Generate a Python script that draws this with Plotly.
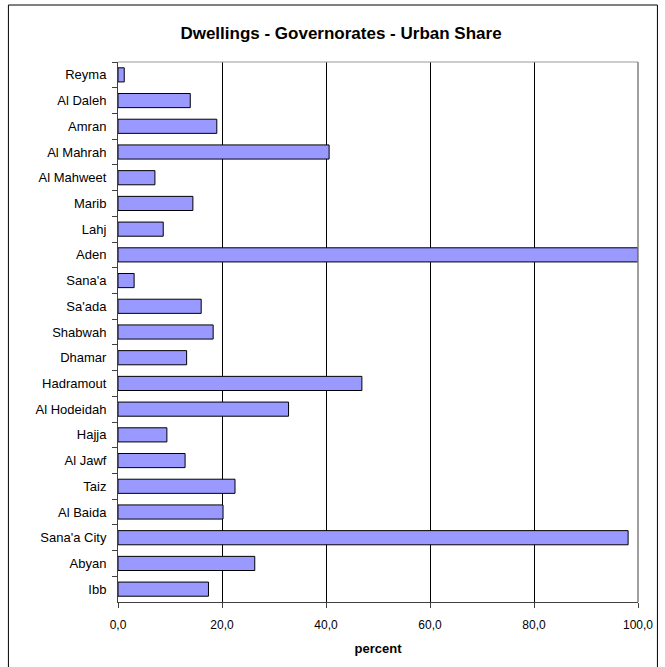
import plotly.graph_objects as go

governorates = ["Reyma", "Al Daleh", "Amran", "Al Mahrah", "Al Mahweet", "Marib", "Lahj",
                "Aden", "Sana'a", "Sa'ada", "Shabwah", "Dhamar", "Hadramout", "Al Hodeidah",
                "Hajja", "Al Jawf", "Taiz", "Al Baida", "Sana'a City", "Abyan", "Ibb"]
urban_share = [1.2, 13.9, 19.0, 40.6, 7.1, 14.4, 8.7,
               100.0, 3.1, 16.0, 18.3, 13.2, 46.9, 32.8,
               9.4, 12.9, 22.5, 20.2, 98.1, 26.3, 17.4]
tick_values = [0, 20, 40, 60, 80, 100]
tick_labels = ["0,0", "20,0", "40,0", "60,0", "80,0", "100,0"]

W, H = 665, 667
ml, mr, mt, mb = 118, 25, 62, 65
pw = W - ml - mr
ph = H - mt - mb
FONT = "Liberation Sans, Arial, sans-serif"

fig = go.Figure(go.Bar(
    x=urban_share, y=governorates, orientation="h",
    marker=dict(color="#9999FF", line=dict(color="black", width=1)),
))

fig.update_layout(
    width=W, height=H,
    margin=dict(l=ml, r=mr, t=mt, b=mb),
    paper_bgcolor="white", plot_bgcolor="white",
    bargap=0.45,
    showlegend=False,
    font=dict(family=FONT, size=12, color="black"),
    title=dict(text="<b>Dwellings - Governorates - Urban Share</b>",
               x=341 / W, xanchor="center", y=1 - 33 / H, yanchor="middle",
               font=dict(size=17, family=FONT, color="black")),
    xaxis=dict(range=[0, 100], tickvals=tick_values, ticktext=tick_labels,
               showgrid=True, gridcolor="black", gridwidth=1,
               ticks="outside", ticklen=5, tickcolor="#404040",
               showline=True, linecolor="#404040", linewidth=1,
               zeroline=False,
               tickfont=dict(size=12), ticklabelstandoff=7,
               title=dict(text="<b>percent</b>", font=dict(size=13), standoff=12)),
    yaxis=dict(autorange="reversed", showgrid=False,
               ticks="outside", ticklen=5, tickcolor="#404040", tickson="boundaries",
               showline=True, linecolor="#404040", linewidth=1,
               tickfont=dict(size=13), ticklabelstandoff=8),
    shapes=[
        dict(type="line", xref="paper", yref="paper", x0=0, x1=1, y0=1, y1=1,
             line=dict(color="#9a9a9a", width=1)),
        dict(type="line", xref="paper", yref="paper", x0=1, x1=1, y0=0, y1=1,
             line=dict(color="#808080", width=1.5)),
        dict(type="rect", xref="paper", yref="paper",
             x0=(8 - ml) / pw, x1=(659.5 - ml) / pw,
             y0=(-3 - mb) / ph, y1=(H - 5 - mb) / ph,
             line=dict(color="black", width=1), layer="below"),
    ],
)

fig.write_html("out.html", config={"displayModeBar": False},
               post_script="document.body.style.margin='0';document.body.style.overflow='hidden';")
